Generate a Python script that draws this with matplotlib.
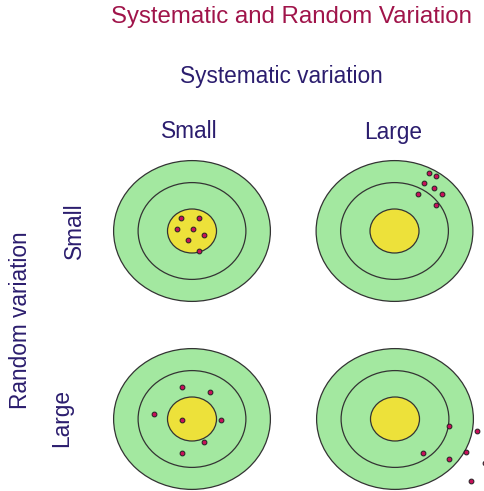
import matplotlib.pyplot as plt
from matplotlib.patches import Circle

W, H = 485, 491

# ring radii of each target (outer, middle, inner), in target units
radii = [3.2, 2.2, 1.0]
ring_colors = ['#a3e8a0', '#a3e8a0', '#ede13a']

# shots for each panel (systematic, random)
tl_x = [-0.43, 0.27, -0.63, 0.03, 0.50, -0.18, 0.27]
tl_y = [0.58, 0.58, 0.08, 0.08, -0.18, -0.42, -0.91]

tr_x = [1.41, 1.71, 1.20, 1.63, 0.97, 1.94, 1.71]
tr_y = [2.65, 2.50, 2.18, 1.94, 1.70, 1.68, 1.20]

bl_x = [-0.40, 0.73, -1.54, -0.40, 1.19, 0.51, -0.40]
bl_y = [1.47, 1.21, 0.21, -0.03, -0.03, -1.03, -1.55]

br_x = [2.22, 3.33, 2.89, 1.13, 2.22, 3.67, 3.10]
br_y = [-0.32, -0.56, -1.49, -1.56, -1.82, -2.01, -2.82]

panels = [
    (192, 231, tl_x, tl_y),
    (394.5, 231, tr_x, tr_y),
    (192, 419, bl_x, bl_y),
    (395, 419, br_x, br_y),
]

title_col = '#a0144a'
lab_col = '#2b1d6e'
font = 'Liberation Sans'
fs = 16.3

fig = plt.figure(figsize=(W / 100, H / 100), dpi=100)

pw, ph = 180, 160
sx, sy = 24.5, 22.0  # pixels per unit
for cx, cy, xs, ys in panels:
    ax = fig.add_axes([(cx - pw / 2) / W, 1 - (cy + ph / 2) / H, pw / W, ph / H])
    ax.set_xlim(-pw / 2 / sx, pw / 2 / sx)
    ax.set_ylim(-ph / 2 / sy, ph / 2 / sy)
    ax.axis('off')
    for r, c in zip(radii, ring_colors):
        ax.add_patch(Circle((0, 0), r, facecolor=c, edgecolor='#333333', lw=0.9))
    ax.scatter(xs, ys, s=12, c='#c8105a', edgecolors='#222222', linewidths=0.7,
               zorder=5, clip_on=False)

fig.text(291 / W, 1 - 17 / H, 'Systematic and Random Variation', color=title_col,
         fontsize=17.3, family=font, ha='center', va='center')
fig.text(281 / W, 1 - 76 / H, 'Systematic variation', color=lab_col,
         fontsize=fs, family=font, ha='center', va='center')
fig.text(189 / W, 1 - 132 / H, 'Small', color=lab_col, fontsize=fs, family=font,
         ha='center', va='center')
fig.text(393 / W, 1 - 132 / H, 'Large', color=lab_col, fontsize=fs, family=font,
         ha='center', va='center')
fig.text(74 / W, 1 - 231 / H, 'Small', color=lab_col, fontsize=fs, family=font,
         ha='center', va='center', rotation=90)
fig.text(62 / W, 1 - 418 / H, 'Large', color=lab_col, fontsize=fs, family=font,
         ha='center', va='center', rotation=90)
fig.text(21 / W, 1 - 320 / H, 'Random variation', color=lab_col, fontsize=fs,
         family=font, ha='center', va='center', rotation=90)

fig.savefig('out.png', dpi=100)
